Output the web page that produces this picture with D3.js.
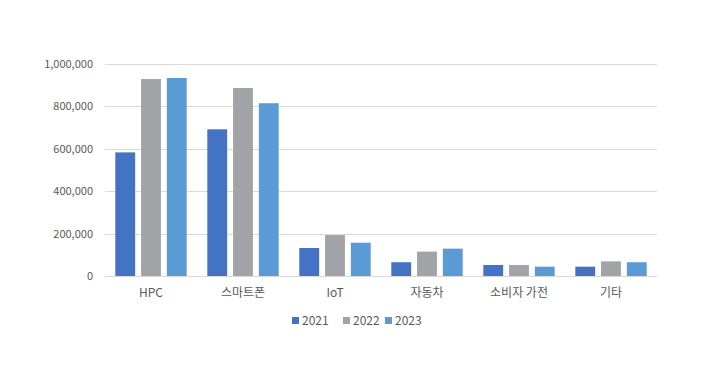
<!DOCTYPE html>
<html>
<head>
<meta charset="utf-8">
<script src="https://cdn.jsdelivr.net/npm/d3@7"></script>
<style>
  body { margin: 0; background: #fff; }
  text { font-family: "Noto Sans CJK KR", "Noto Sans", sans-serif; fill: #595959; }
</style>
</head>
<body>
<script>
// Data
const categories = ["HPC", "스마트폰", "IoT", "자동차", "소비자 가전", "기타"];
const years = ["2021", "2022", "2023"];
const values2021 = [583000, 692000, 132000, 65000, 52000, 44000];
const values2022 = [929000, 887000, 193000, 115000, 52000, 69000];
const values2023 = [934000, 815000, 157000, 129000, 44000, 65000];
const yTicks = [0, 200000, 400000, 600000, 800000, 1000000];
const colors = ["#4472C4", "#A2A3A6", "#5B9BD5"];

const allSeries = [values2021, values2022, values2023];

const width = 702, height = 369;
const margin = {top: 64, right: 45, bottom: 93, left: 105};

const svg = d3.select("body").append("svg")
  .attr("width", width)
  .attr("height", height);

const x0 = d3.scaleBand()
  .domain(categories)
  .range([margin.left, width - margin.right])
  .paddingInner(0)
  .paddingOuter(0);

const x1 = d3.scaleBand()
  .domain(years)
  .range([0, x0.bandwidth()])
  .paddingInner(0.23)
  .paddingOuter(0.4);

const y = d3.scaleLinear()
  .domain([0, 1000000])
  .range([height - margin.bottom, margin.top]);

// gridlines
svg.append("g")
  .selectAll("line")
  .data(yTicks)
  .join("line")
  .attr("x1", margin.left)
  .attr("x2", width - margin.right)
  .attr("y1", d => Math.round(y(d)) + 0.5)
  .attr("y2", d => Math.round(y(d)) + 0.5)
  .attr("stroke", "#d9d9d9")
  .attr("stroke-width", 1);

// y axis labels
const yAxis = d3.axisLeft(y)
  .tickValues(yTicks)
  .tickSize(0)
  .tickPadding(12)
  .tickFormat(d3.format(","));

svg.append("g")
  .attr("transform", `translate(${margin.left},0)`)
  .call(yAxis)
  .call(g => g.select(".domain").remove())
  .call(g => g.selectAll("text")
    .attr("font-size", 11)
    .attr("font-family", "'Noto Sans', sans-serif")
    .attr("fill", "#595959"));

// bars
const groups = svg.append("g")
  .selectAll("g")
  .data(categories)
  .join("g")
  .attr("transform", d => `translate(${x0(d)},0)`);

groups.selectAll("rect")
  .data((d, i) => years.map((yr, j) => ({year: yr, value: allSeries[j][i], j})))
  .join("rect")
  .attr("x", d => x1(d.year))
  .attr("width", x1.bandwidth())
  .attr("y", d => y(d.value))
  .attr("height", d => y(0) - y(d.value))
  .attr("fill", d => colors[d.j]);

// category labels
const xAxis = d3.axisBottom(x0).tickSize(0).tickPadding(12);
svg.append("g")
  .attr("transform", `translate(0,${height - margin.bottom})`)
  .call(xAxis)
  .call(g => g.select(".domain").remove())
  .call(g => g.selectAll("text")
    .attr("font-size", 12)
    .attr("font-family", "'Noto Sans CJK KR', sans-serif")
    .attr("fill", "#595959"));

// legend
const legendX = [292, 343, 385];
const legend = svg.append("g")
  .selectAll("g")
  .data(years)
  .join("g")
  .attr("transform", (d, i) => `translate(${legendX[i]},321)`);

legend.append("rect")
  .attr("x", 0)
  .attr("y", -4)
  .attr("width", 7)
  .attr("height", 7)
  .attr("fill", (d, i) => colors[i]);

legend.append("text")
  .attr("x", 10)
  .attr("y", 0)
  .attr("dy", "0.35em")
  .attr("font-size", 12)
  .attr("font-family", "'Noto Sans', sans-serif")
  .text(d => d);
</script>
</body>
</html>
